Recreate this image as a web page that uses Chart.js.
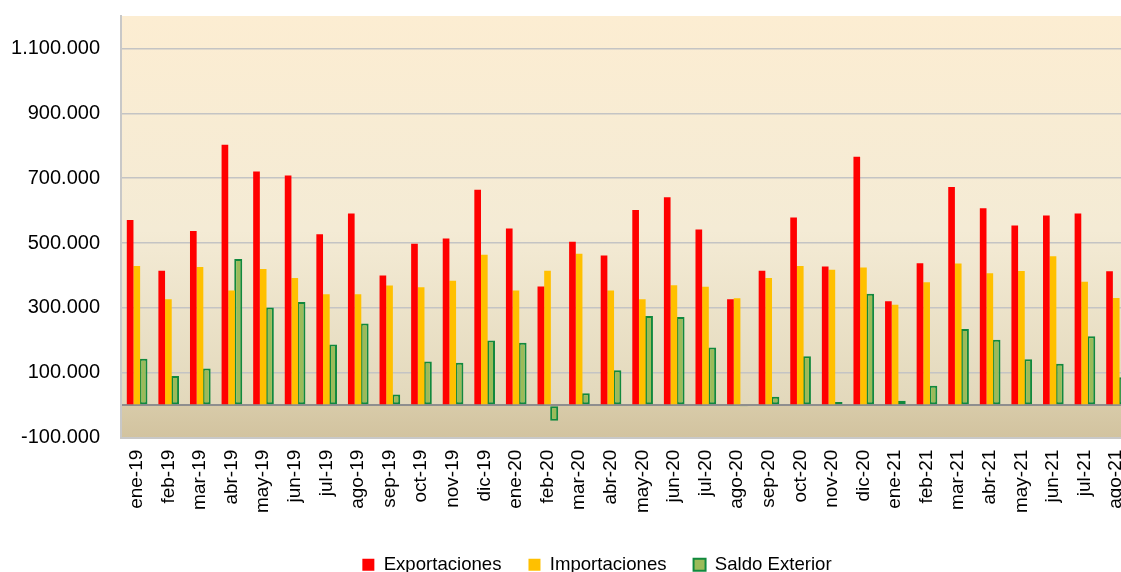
<!DOCTYPE html>
<html>
<head>
<meta charset="utf-8">
<script src="https://cdn.jsdelivr.net/npm/chart.js@4/dist/chart.umd.min.js"></script>
<style>
html, body { margin: 0; padding: 0; background: #fff; overflow: hidden; }
#wrap { width: 1194px; height: 584px; }
</style>
</head>
<body>
<div id="wrap"><canvas id="chart" width="1194" height="584"></canvas></div>
<script>
// meses del periodo
var meses = ['ene-19', 'feb-19', 'mar-19', 'abr-19', 'may-19', 'jun-19', 'jul-19', 'ago-19', 'sep-19', 'oct-19', 'nov-19', 'dic-19',
	'ene-20', 'feb-20', 'mar-20', 'abr-20', 'may-20', 'jun-20', 'jul-20', 'ago-20', 'sep-20', 'oct-20', 'nov-20', 'dic-20',
	'ene-21', 'feb-21', 'mar-21', 'abr-21', 'may-21', 'jun-21', 'jul-21', 'ago-21'];

var exportaciones = [571000, 415000, 537000, 803000, 721000, 708000, 527000, 591000, 400000, 498000, 514000, 664000,
	545000, 366000, 504000, 462000, 602000, 641000, 542000, 327000, 415000, 579000, 428000, 766000,
	321000, 438000, 673000, 607000, 554000, 585000, 591000, 413000];

var importaciones = [429000, 327000, 426000, 354000, 420000, 392000, 342000, 342000, 369000, 364000, 384000, 464000,
	354000, 415000, 467000, 354000, 327000, 370000, 365000, 330000, 392000, 429000, 418000, 425000,
	310000, 379000, 437000, 407000, 414000, 459000, 381000, 331000];

var saldo = [143000, 90000, 113000, 451000, 301000, 318000, 187000, 252000, 33000, 135000, 131000, 200000,
	193000, -48000, 37000, 108000, 275000, 272000, 178000, -4000, 26000, 151000, 10000, 344000,
	14000, 60000, 235000, 202000, 142000, 128000, 213000, 86000];

var ticksY = [-100000, 0, 100000, 300000, 500000, 700000, 900000, 1100000];

function miles(v){
	var s = String(Math.abs(v)).replace(/\B(?=(\d{3})+(?!\d))/g, '.');
	return (v < 0 ? '-' : '') + s;
}

// fondo degradado del area del grafico
var fondo = {
	id: 'fondo',
	beforeDraw: function(chart){
		var a = chart.chartArea, ctx = chart.ctx;
		var y0 = chart.scales.y.getPixelForValue(0);
		ctx.save();
		var g = ctx.createLinearGradient(0, a.top, 0, y0);
		g.addColorStop(0, '#FCEDD2');
		g.addColorStop(0.55, '#F4EBD5');
		g.addColorStop(1, '#E2D8BB');
		ctx.fillStyle = g;
		ctx.fillRect(a.left, a.top, a.right - a.left, y0 - a.top);
		var g2 = ctx.createLinearGradient(0, y0, 0, a.bottom);
		g2.addColorStop(0, '#D8CBA9');
		g2.addColorStop(1, '#D2C39F');
		ctx.fillStyle = g2;
		ctx.fillRect(a.left, y0, a.right - a.left, a.bottom - y0);
		ctx.restore();
	}
};

Chart.defaults.font.family = "'Liberation Sans', Arial, sans-serif";
Chart.defaults.color = '#000';

var ctx = document.getElementById('chart').getContext('2d');
var mychart = new Chart(ctx, {
	type: 'bar',
	data: {
		labels: meses,
		datasets: [{
			label: 'Exportaciones',
			data: exportaciones,
			backgroundColor: '#FF0000',
			borderWidth: 0,
			barPercentage: 1,
			categoryPercentage: 0.633
		}, {
			label: 'Importaciones',
			data: importaciones,
			backgroundColor: '#FFC000',
			borderWidth: 0,
			barPercentage: 1,
			categoryPercentage: 0.633
		}, {
			label: 'Saldo Exterior',
			data: saldo,
			backgroundColor: '#9BBB59',
			borderColor: '#11893D',
			borderWidth: 2,
			borderSkipped: false,
			barPercentage: 1.2,
			categoryPercentage: 0.633
		}]
	},
	options: {
		responsive: false,
		animation: false,
		layout: { padding: { top: 16, left: 0, right: 0, bottom: 0 } },
		plugins: {
			tooltip: { enabled: false },
			legend: {
				position: 'bottom',
				labels: {
					boxWidth: 12,
					boxHeight: 12,
					padding: 27,
					font: { size: 18.6 }
				}
			}
		},
		scales: {
			x: {
				grid: { display: true, drawOnChartArea: false, drawTicks: false },
				border: { color: '#C8C8C8', width: 2 },
				ticks: { minRotation: 90, maxRotation: 90, autoSkip: false, padding: 12, font: { size: 19 } },
				afterFit: function(s){ s.height = 90.7; }
			},
			y: {
				min: -100000,
				max: 1200000,
				afterBuildTicks: function(s){ s.ticks = ticksY.map(function(v){ return { value: v }; }); },
				afterFit: function(s){ s.width = 121; s.paddingTop = 0; s.paddingBottom = 0; },
				grid: {
					drawTicks: false,
					lineWidth: function(c){ return c.tick && c.tick.value === 0 ? 2 : 1.5; },
					color: function(c){ return c.tick && c.tick.value === 0 ? '#8E8E8E' : '#C4C4C4'; }
				},
				border: { color: '#C8C8C8', width: 2 },
				ticks: {
					padding: 21,
					font: { size: 20 },
					callback: function(v){ return v === 0 ? '' : miles(v); }
				}
			},
			derecha: {
				position: 'right',
				display: true,
				grid: { display: false },
				border: { display: false },
				ticks: { display: false },
				afterFit: function(s){ s.width = 62; s.paddingTop = 0; s.paddingBottom = 0; }
			}
		}
	},
	plugins: [fondo]
});
</script>
</body>
</html>
